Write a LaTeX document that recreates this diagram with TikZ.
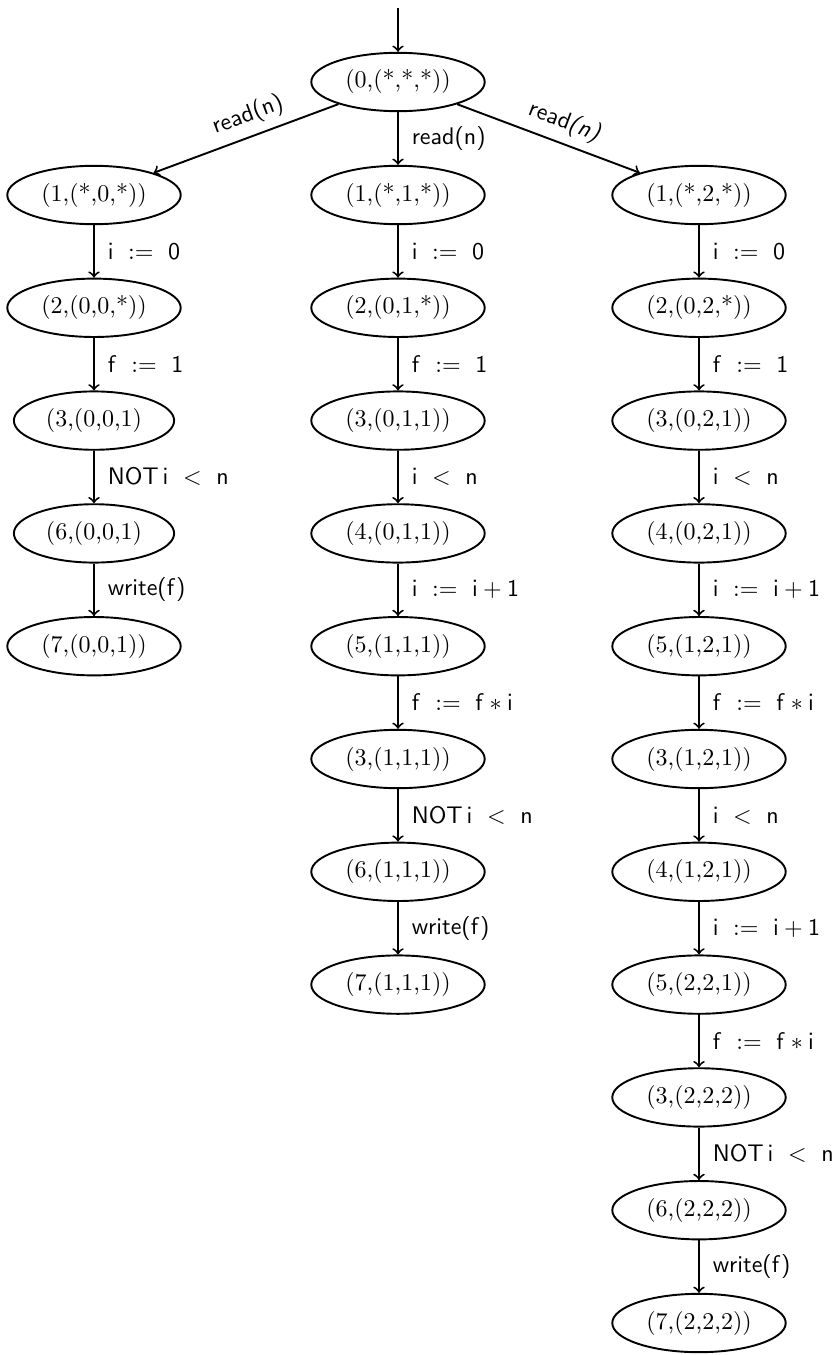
\documentclass[tikz,border=0pt]{standalone}
\usetikzlibrary{shapes.geometric}
\begin{document}
\begin{tikzpicture}[x=0.41667pt,y=-0.41667pt,
  st/.style={draw,ellipse,thick,inner sep=3.6pt},
  tr/.style={->,thick},
  lab/.style={font=\sffamily,right,midway,xshift=2pt}]
\useasboundingbox (0,0) rectangle (833,1355);
\node[st] (n0) at (398,82) {(0,(*,*,*))};
\coordinate (start) at (398,8);
\draw[tr] (start) -- (n0);
% left column
\node[st] (l1) at (94,195) {(1,(*,0,*))};
\node[st] (l2) at (94,307.8) {(2,(0,0,*))};
\node[st] (l3) at (94,420.6) {(3,(0,0,1)};
\node[st] (l4) at (94,533.4) {(6,(0,0,1)};
\node[st] (l5) at (94,646.2) {(7,(0,0,1))};
% middle column
\node[st] (m1) at (398,195) {(1,(*,1,*))};
\node[st] (m2) at (398,307.8) {(2,(0,1,*))};
\node[st] (m3) at (398,420.6) {(3,(0,1,1))};
\node[st] (m4) at (398,533.4) {(4,(0,1,1))};
\node[st] (m5) at (398,646.2) {(5,(1,1,1))};
\node[st] (m6) at (398,759) {(3,(1,1,1))};
\node[st] (m7) at (398,871.8) {(6,(1,1,1))};
\node[st] (m8) at (398,984.6) {(7,(1,1,1))};
% right column
\node[st] (r1) at (699,195) {(1,(*,2,*))};
\node[st] (r2) at (699,307.8) {(2,(0,2,*))};
\node[st] (r3) at (699,420.6) {(3,(0,2,1))};
\node[st] (r4) at (699,533.4) {(4,(0,2,1))};
\node[st] (r5) at (699,646.2) {(5,(1,2,1))};
\node[st] (r6) at (699,759) {(3,(1,2,1))};
\node[st] (r7) at (699,871.8) {(4,(1,2,1))};
\node[st] (r8) at (699,984.6) {(5,(2,2,1))};
\node[st] (r9) at (699,1097.4) {(3,(2,2,2))};
\node[st] (r10) at (699,1210.2) {(6,(2,2,2))};
\node[st] (r11) at (699,1323) {(7,(2,2,2))};
% top edges
\draw[tr] (n0) -- node[sloped,above,font=\sffamily,pos=0.45] {read(n)} (l1);
\draw[tr] (n0) -- node[lab] {read(n)} (m1);
\draw[tr] (n0) -- node[sloped,above,font=\sffamily,pos=0.55] {read\textit{(n)}} (r1);
% left edges
\draw[tr] (l1) -- node[lab] {$\mathsf{i}\ :=\ \mathsf{0}$} (l2);
\draw[tr] (l2) -- node[lab] {$\mathsf{f}\ :=\ \mathsf{1}$} (l3);
\draw[tr] (l3) -- node[lab] {$\mathsf{NOT\,i}\ <\ \mathsf{n}$} (l4);
\draw[tr] (l4) -- node[lab] {write(f)} (l5);
% middle edges
\draw[tr] (m1) -- node[lab] {$\mathsf{i}\ :=\ \mathsf{0}$} (m2);
\draw[tr] (m2) -- node[lab] {$\mathsf{f}\ :=\ \mathsf{1}$} (m3);
\draw[tr] (m3) -- node[lab] {$\mathsf{i}\ <\ \mathsf{n}$} (m4);
\draw[tr] (m4) -- node[lab] {$\mathsf{i}\ :=\ \mathsf{i} + \mathsf{1}$} (m5);
\draw[tr] (m5) -- node[lab] {$\mathsf{f}\ :=\ \mathsf{f} \ast \mathsf{i}$} (m6);
\draw[tr] (m6) -- node[lab] {$\mathsf{NOT\,i}\ <\ \mathsf{n}$} (m7);
\draw[tr] (m7) -- node[lab] {write(f)} (m8);
% right edges
\draw[tr] (r1) -- node[lab] {$\mathsf{i}\ :=\ \mathsf{0}$} (r2);
\draw[tr] (r2) -- node[lab] {$\mathsf{f}\ :=\ \mathsf{1}$} (r3);
\draw[tr] (r3) -- node[lab] {$\mathsf{i}\ <\ \mathsf{n}$} (r4);
\draw[tr] (r4) -- node[lab] {$\mathsf{i}\ :=\ \mathsf{i} + \mathsf{1}$} (r5);
\draw[tr] (r5) -- node[lab] {$\mathsf{f}\ :=\ \mathsf{f} \ast \mathsf{i}$} (r6);
\draw[tr] (r6) -- node[lab] {$\mathsf{i}\ <\ \mathsf{n}$} (r7);
\draw[tr] (r7) -- node[lab] {$\mathsf{i}\ :=\ \mathsf{i} + \mathsf{1}$} (r8);
\draw[tr] (r8) -- node[lab] {$\mathsf{f}\ :=\ \mathsf{f} \ast \mathsf{i}$} (r9);
\draw[tr] (r9) -- node[lab] {$\mathsf{NOT\,i}\ <\ \mathsf{n}$} (r10);
\draw[tr] (r10) -- node[lab] {write(f)} (r11);
\end{tikzpicture}
\end{document}
